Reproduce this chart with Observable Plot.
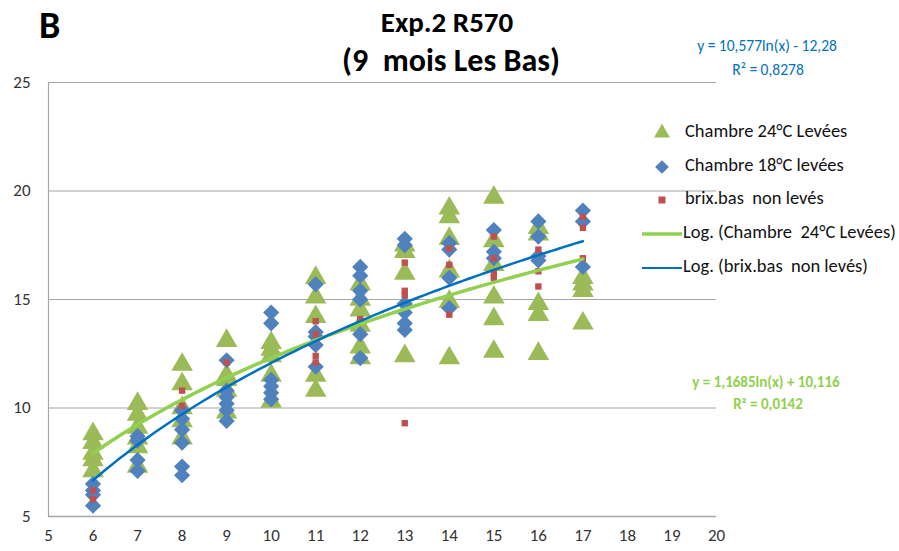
<!DOCTYPE html>
<html><head><meta charset="utf-8">
<script src="https://cdn.jsdelivr.net/npm/d3@7"></script>
<script src="https://cdn.jsdelivr.net/npm/@observablehq/plot@0.6"></script>
<style>
body{margin:0;background:#fff;}
#chart svg{display:block;}
</style>
</head><body><div id="chart"></div>
<script>
const FONT = "Carlito, 'Liberation Sans Narrow', 'Open Sans', sans-serif";
const xTicks = [5,6,7,8,9,10,11,12,13,14,15,16,17,18,19,20];
const yTicks = [5,10,15,20,25];

// Chambre 24°C Levées (triangles)
const triX = [6,6,6,6,6, 7,7,7,7,7,7, 8,8,8,8,8, 9,9,9,9,9, 10,10,10,10,10, 11,11,11,11,11, 12,12,12,12,12,12, 13,13,13,13, 14,14,14,14,14,14, 15,15,15,15,15,15, 16,16,16,16,16, 17,17,17,17];
const triY = [8.8,8.4,7.9,7.6,7.1, 10.2,9.7,9.1,8.6,8.2,7.3, 12.0,11.1,10.0,9.4,8.6, 13.1,11.5,11.3,10.8,9.8, 13.0,12.7,12.4,11.5,10.3, 16.0,15.1,14.2,11.5,10.8, 15.7,15.0,14.5,13.8,12.8,12.3, 17.5,17.2,16.2,12.4, 19.2,18.8,17.8,16.3,14.9,12.3, 19.7,17.7,16.6,15.1,14.1,12.6, 18.3,18.0,14.8,14.3,12.5, 16.0,15.7,15.4,13.9];

// Chambre 18°C levées (diamonds)
const diaX = [6,6,6,6, 7,7,7,7, 8,8,8,8,8,8, 9,9,9,9,9,9, 10,10,10,10,10,10, 11,11,11,11,11, 12,12,12,12,12,12, 13,13,13,13,13,13, 14,14,14,14, 15,15,15, 16,16,16,16, 17,17,17];
const diaY = [6.5,6.2,6.0,5.5, 8.7,8.5,7.6,7.1, 9.9,9.5,9.0,8.4,7.3,6.9, 12.2,10.8,10.5,10.2,9.9,9.4, 14.4,13.9,11.3,11.0,10.7,10.4, 15.7,13.5,13.3,12.9,11.9, 16.5,16.1,15.4,15.0,13.4,12.3, 17.8,17.5,14.8,14.4,13.9,13.6, 17.6,17.3,16.0,14.6, 18.2,17.2,16.9, 18.6,17.9,17.0,16.8, 19.1,18.6,16.5];

// brix.bas non levés (squares)
const sqX = [6,6, 8,8, 9, 11,11,11,11, 12, 13,13,13,13, 14,14,14, 15,15,15,15, 16,16,16, 17,17,17];
const sqY = [6.2,5.8, 10.8,10.1, 12.1, 14.0,13.4,12.4,12.1, 14.1, 16.7,15.4,15.2,9.3, 17.35,16.6,14.3, 17.9,16.9,16.2,16.0, 17.3,16.3,15.6, 18.8,18.3,16.9];

// logarithmic trend coefficients (a*ln(x)+b) as drawn
const greenFit = {a: 8.6, b: -7.5};
const blueFit = {a: 10.577, b: -12.28};
const fitX = d3.range(6, 17.001, 0.1);

const legendLabels = ["Chambre 24°C Levées","Chambre 18°C levées","brix.bas  non levés","Log. (Chambre  24°C Levées)","Log. (brix.bas  non levés)"];

const C = {tri:"#9BBB59", dia:"#4F81BD", sq:"#C0504D", gl:"#92D050", bl:"#0070C0", grid:"#A6A6A6"};

const tri = triX.map((x,i)=>({x, y:triY[i]}));
const dia = diaX.map((x,i)=>({x, y:diaY[i]}));
const sq = sqX.map((x,i)=>({x, y:sqY[i]}));
const gLine = fitX.map(x=>({x, y: greenFit.a*Math.log(x)+greenFit.b}));
const bLine = fitX.map(x=>({x, y: blueFit.a*Math.log(x)+blueFit.b}));

const plot = Plot.plot({
  width: 899, height: 551,
  marginLeft: 48, marginRight: 183, marginTop: 82, marginBottom: 35,
  style: {fontFamily: FONT, fontSize: "17px", color: "#333", background: "#fff"},
  x: {domain: [5,20], ticks: xTicks, tickSize: 0, tickPadding: 12, label: null},
  y: {domain: [5,25], ticks: yTicks, tickSize: 0, tickPadding: 18, label: null},
  marks: [
    Plot.ruleY(yTicks.filter(v=>v>5), {stroke: C.grid, strokeWidth: 1.2}),
    Plot.ruleY([5], {stroke: C.grid, strokeWidth: 1.5}),
    Plot.ruleX([5], {stroke: C.grid, strokeWidth: 1.2}),
    Plot.dot(tri, {x:"x", y:"y", symbol:"triangle", r:8, fill: C.tri, stroke: "none"}),
    Plot.dot(dia, {x:"x", y:"y", symbol:"diamond2", r:7.3, fill: C.dia, stroke: "none"}),
    Plot.dot(sq, {x:"x", y:"y", symbol:"square", r:3.6, fill: C.sq, stroke: "none"}),
    Plot.line(gLine, {x:"x", y:"y", stroke: C.gl, strokeWidth: 3.5}),
    Plot.line(bLine, {x:"x", y:"y", stroke: C.bl, strokeWidth: 2.5})
  ]
});
document.getElementById("chart").append(plot);

const svg = d3.select(plot);
const T = (x,y,txt,opts={}) => svg.append("text").attr("x",x).attr("y",y).text(txt)
  .attr("font-family", FONT).attr("font-size", opts.size||15).attr("font-weight", opts.weight||"normal")
  .attr("fill", opts.fill||"#000").attr("text-anchor", opts.anchor||"start").attr("dominant-baseline","middle");

T(39, 29, "B", {size: 38, weight: "bold"});
T(447, 25, "Exp.2 R570", {size: 29, weight: "bold", anchor: "middle"});
T(451, 63, "(9  mois Les Bas)", {size: 32, weight: "bold", anchor: "middle"});

T(767, 47, "y = 10,577ln(x) - 12,28", {size: 15.5, fill: C.bl, anchor: "middle"});
T(768, 71, "R² = 0,8278", {size: 15.5, fill: C.bl, anchor: "middle"});
T(766, 383, "y = 1,1685ln(x) + 10,116", {size: 15, fill: C.gl, weight: "bold", anchor: "middle"});
T(768, 405, "R² = 0,0142", {size: 15, fill: C.gl, weight: "bold", anchor: "middle"});

// legend
const ly = [133, 167, 200, 234, 268];
const lg = svg.append("g");
lg.append("path").attr("transform", `translate(662,${ly[0]})`).attr("d", d3.symbol(d3.symbolTriangle, 110)()).attr("fill", C.tri);
lg.append("path").attr("transform", `translate(662,${ly[1]})`).attr("d", d3.symbol(d3.symbolDiamond2, 120)()).attr("fill", C.dia);
lg.append("rect").attr("x", 658.5).attr("y", ly[2]-3.5).attr("width", 7).attr("height", 7).attr("fill", C.sq);
lg.append("line").attr("x1", 642).attr("x2", 682).attr("y1", ly[3]).attr("y2", ly[3]).attr("stroke", C.gl).attr("stroke-width", 3.5);
lg.append("line").attr("x1", 642).attr("x2", 682).attr("y1", ly[4]).attr("y2", ly[4]).attr("stroke", C.bl).attr("stroke-width", 2);
legendLabels.forEach((t,i)=> T(i<3?685:683, ly[i], t, {size: 18.5, fill: "#111"}));
</script>
</body></html>
